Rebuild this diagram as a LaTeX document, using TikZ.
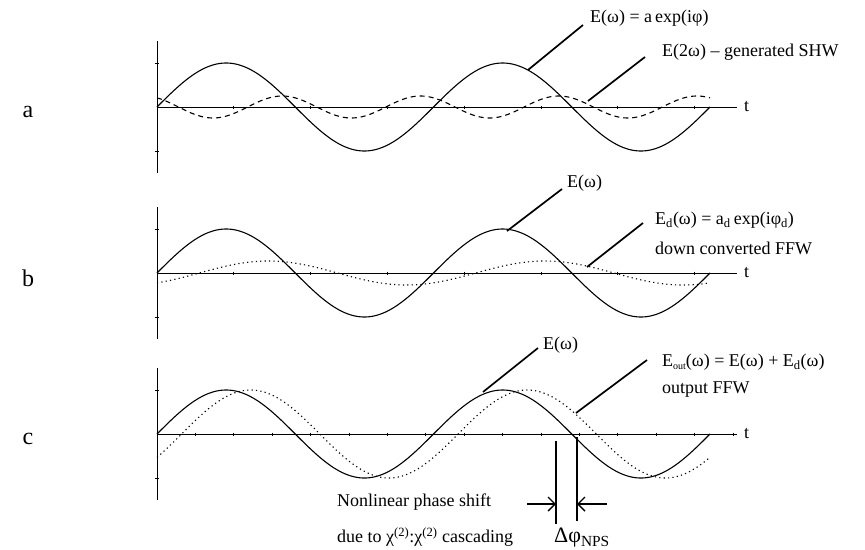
\documentclass[tikz,border=0pt]{standalone}
\usepackage{fontspec}
\setmainfont{Liberation Serif}
\usetikzlibrary{arrows.meta}

\begin{document}
\begin{tikzpicture}[x=1pt,y=-1pt,font=\fontsize{18}{20}\selectfont,
      axis/.style={line width=1pt},
      wave/.style={line width=1.1pt,domain=0:720,samples=241,smooth},
      shw/.style={wave,dash pattern=on 5pt off 4pt},
      ffw/.style={wave,dash pattern=on 1.2pt off 3.2pt},
      lead/.style={line width=1.7pt},
      lab/.style={anchor=west,inner sep=0pt},
      tag/.style={font=\fontsize{24}{26}\selectfont},
      arr/.style={-{Straight Barb[length=7pt,width=14pt]},line width=1.4pt}]
    \useasboundingbox (0,0) rectangle (865,549);
    \foreach \yo/\nm/\dk/\nt in {107/a/76.8/7,273/b/76.8/7,434/c/38.4/15} {
      \draw[axis] (157,\yo-66) -- (157,\yo+66);
      \draw[axis] (157,\yo) -- (737,\yo);
      \foreach \k in {1,...,\nt}
        \draw[axis] ({157+\k*\dk},\yo-1.5) -- ++(0,3);
      \draw[axis] (155,\yo-44) -- ++(4,0);
      \draw[axis] (155,\yo+44) -- ++(4,0);
      \node[tag] (\nm) at (28,\yo+5) {\nm};
      \node[lab] (t\nm) at (744,\yo) {t};
      \draw[wave] plot ({157+0.76806*\x},{\yo-44*sin(\x)});
    }
    \draw[shw] plot ({157+0.76806*\x},{107-11*cos(2*\x+34)});
    \draw[ffw] plot ({157+0.76806*\x},{273-12*sin(\x-55)});
    \draw[ffw] plot ({157+0.76806*\x},{434-44*sin(\x-32)});

    \node[lab] (la1) at (590,18) {E(ω) = a\,exp(iφ)};
    \node[lab] (la2) at (662,52) {E(2ω) \textendash{} generated SHW};
    \node[lab] (lb1) at (567,183) {E(ω)};
    \node[lab] (lb2) at (655,220) {E\textsubscript{d}(ω) = a\textsubscript{d}\,exp(iφ\textsubscript{d})};
    \node[lab] (lb3) at (655,248) {down converted FFW};
    \node[lab] (lc1) at (543,345) {E(ω)};
    \node[lab] (lc2) at (662,362) {E\raisebox{-3pt}{\fontsize{10}{10}\selectfont out}(ω) = E(ω) + E\textsubscript{d}(ω)};
    \node[lab] (lc3) at (662,390) {output FFW};
    \node[lab] (nps1) at (337,502) {Nonlinear phase shift};
    \node[lab] (nps2) at (337,537) {due to χ\textsuperscript{(2)}:χ\textsuperscript{(2)} cascading};
    \node (dphi) at (582,538) {\fontsize{22}{24}\selectfont Δφ\textsubscript{NPS}};

    \coordinate (pa1) at (528,70);
    \coordinate (ea1) at (583,25);
    \coordinate (pa2) at (588,101);
    \coordinate (ea2) at (645,57);
    \coordinate (pb1) at (507,231);
    \coordinate (eb1) at (562,189);
    \coordinate (pb2) at (587,267);
    \coordinate (eb2) at (643,223);
    \coordinate (pc1) at (483,392);
    \coordinate (ec1) at (538,348);
    \coordinate (pc2) at (576,413);
    \coordinate (ec2) at (647,360);
    \foreach \p in {a1,a2,b1,b2,c1,c2}
      \draw[lead] (p\p) -- (e\p);

    \coordinate (m1t) at (556,441);
    \coordinate (m1b) at (556,524);
    \coordinate (m2t) at (577,437);
    \coordinate (m2b) at (577,521);
    \draw[lead] (m1t) -- (m1b);
    \draw[lead] (m2t) -- (m2b);
    \coordinate (al) at (527,504);
    \coordinate (ar) at (607,504);
    \draw[arr] (al) -- (al -| m1t);
    \draw[arr] (ar) -- (ar -| m2t);
  \end{tikzpicture}
\end{document}
